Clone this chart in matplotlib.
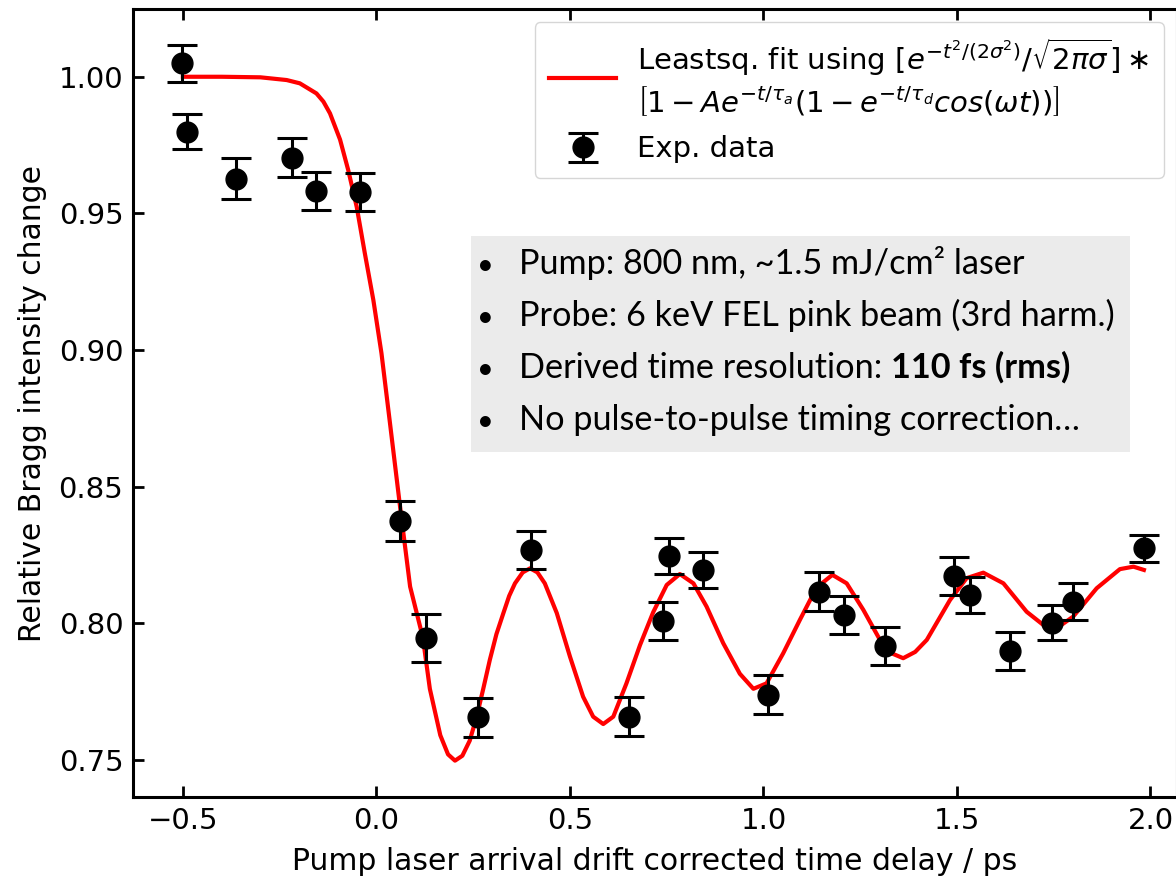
import numpy as np
import matplotlib.pyplot as plt
from matplotlib.patches import Rectangle

plt.rcParams['font.family'] = ['DejaVu Sans']
plt.rcParams['font.size'] = 21
plt.rcParams['mathtext.fontset'] = 'dejavusans'

# measured Bragg intensity (delay in ps)
delay = [-0.503, -0.490, -0.363, -0.218, -0.156, -0.043, 0.061, 0.128, 0.262, 0.399,
         0.653, 0.741, 0.756, 0.845, 1.011, 1.143, 1.207, 1.314, 1.492, 1.534,
         1.637, 1.745, 1.801, 1.983]
intensity = [1.0049, 0.9799, 0.9626, 0.9704, 0.9583, 0.9577, 0.8374, 0.7947, 0.7655, 0.8268,
             0.7658, 0.8008, 0.8247, 0.8195, 0.7738, 0.8116, 0.8030, 0.7917, 0.8173, 0.8104,
             0.7899, 0.8002, 0.8079, 0.8274]
err = [0.0069, 0.0064, 0.0075, 0.0071, 0.0069, 0.0069, 0.0074, 0.0088, 0.0071, 0.0070,
       0.0072, 0.0070, 0.0066, 0.0066, 0.0071, 0.0071, 0.0070, 0.0070, 0.0071, 0.0067,
       0.0070, 0.0065, 0.0067, 0.0050]

# least squares fit curve
fit_t = [-0.50, -0.40, -0.30, -0.232, -0.198, -0.155, -0.137, -0.120, -0.094, -0.073,
         -0.051, -0.030, -0.008, 0.013, 0.035, 0.061, 0.087, 0.120, 0.138, 0.165,
         0.185, 0.203, 0.222, 0.241, 0.259, 0.276, 0.293, 0.310, 0.328, 0.343,
         0.358, 0.378, 0.397, 0.416, 0.435, 0.466, 0.500, 0.534, 0.560, 0.586,
         0.612, 0.646, 0.681, 0.715, 0.750, 0.784, 0.819, 0.853, 0.896, 0.939,
         0.974, 1.008, 1.051, 1.094, 1.137, 1.178, 1.215, 1.258, 1.301, 1.331,
         1.361, 1.392, 1.422, 1.482, 1.525, 1.568, 1.620, 1.680, 1.745, 1.800,
         1.861, 1.921, 1.956, 1.983]
fit_v = [1.0000, 1.0000, 0.9998, 0.9988, 0.9976, 0.9939, 0.9909, 0.9866, 0.9770, 0.9659,
         0.9524, 0.9354, 0.9183, 0.8988, 0.8732, 0.8427, 0.8134, 0.7947, 0.7760, 0.7590,
         0.7520, 0.7497, 0.7515, 0.7570, 0.7658, 0.7760, 0.7866, 0.7960, 0.8037, 0.8100,
         0.8146, 0.8186, 0.8201, 0.8186, 0.8146, 0.8037, 0.7878, 0.7731, 0.7658, 0.7631,
         0.7658, 0.7780, 0.7920, 0.8040, 0.8140, 0.8180, 0.8146, 0.8061, 0.7927, 0.7815,
         0.7760, 0.7780, 0.7890, 0.8012, 0.8130, 0.8177, 0.8146, 0.8049, 0.7939, 0.7890,
         0.7872, 0.7895, 0.7939, 0.8085, 0.8165, 0.8185, 0.8146, 0.8042, 0.7969, 0.8024,
         0.8128, 0.8198, 0.8207, 0.8195]

bullets = ["Pump: 800 nm, ~1.5 mJ/cm\u00b2 laser",
           "Probe: 6 keV FEL pink beam (3rd harm.)",
           "Derived time resolution: ",
           "No pulse-to-pulse timing correction\u2026"]
bold_part = "110 fs (rms)"

fig = plt.figure(figsize=(11.76, 8.76), dpi=100)
ax = fig.add_axes([133/1176, 79/876, 1044/1176, 788/876])

fit_label = (r"Leastsq. fit using $[e^{-t^2/(2\sigma^2)}/\sqrt{2\pi\sigma}]\ast$" + "\n" +
             r"$\left[1-Ae^{-t/\tau_a}(1-e^{-t/\tau_d}cos(\omega t))\right]$")
ax.plot(fit_t, fit_v, color='red', lw=3, label=fit_label, zorder=3,
        solid_joinstyle='round')
ax.errorbar(delay, intensity, yerr=err, fmt='o', color='k', ms=15, capsize=11,
            elinewidth=2.2, capthick=2.2, label='Exp. data', zorder=4)

ax.set_xlim(-0.629, 2.0685)
ax.set_ylim(0.7364, 1.0248)
ax.set_xticks([-0.5, 0.0, 0.5, 1.0, 1.5, 2.0])
ax.set_yticks([0.75, 0.80, 0.85, 0.90, 0.95, 1.00])
ax.set_yticklabels(["%.2f" % v for v in [0.75, 0.80, 0.85, 0.90, 0.95, 1.00]])
ax.tick_params(direction='in', length=8, width=2, top=True, labelsize=21, pad=7)
for s in ax.spines.values():
    s.set_linewidth(2.2)

ax.set_xlabel("Pump laser arrival drift corrected time delay / ps", fontsize=21.5, labelpad=9)
ax.set_ylabel("Relative Bragg intensity change", fontsize=21.5, labelpad=8)

leg = ax.legend(loc='upper right', fontsize=21, handlelength=2.3, handletextpad=0.7,
                borderaxespad=0.45, borderpad=0.5, labelspacing=0.6)

# gray info box
ax.add_patch(Rectangle((0.3238, 0.4378), 0.6312, 0.2741, transform=ax.transAxes,
                       facecolor='#ebebeb', edgecolor='none', zorder=1))
ys = [0.6637, 0.5977, 0.5317, 0.4657]
for i, line in enumerate(bullets):
    ax.text(0.338, ys[i], "\u2022", transform=ax.transAxes, fontsize=21,
            family=['Lato', 'DejaVu Sans'], va='baseline', ha='center', zorder=2)
    t = ax.text(0.3697, ys[i], line, transform=ax.transAxes, fontsize=24.7,
                family=['Lato', 'DejaVu Sans'], va='baseline', zorder=2)
    if i == 2:
        ax.annotate(bold_part, xy=(1, 0), xycoords=t, fontsize=24.7, fontweight='bold',
                    family=['Lato', 'DejaVu Sans'], va='bottom', ha='left', zorder=2)

fig.savefig("out.png", dpi=100)
